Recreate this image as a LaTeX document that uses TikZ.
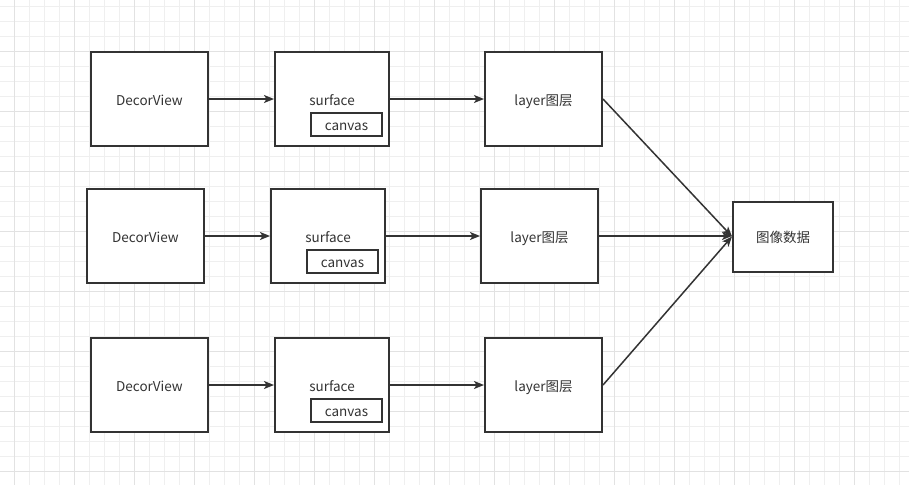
\documentclass[tikz,border=0pt]{standalone}
\usepackage{fontspec}
\setmainfont{Noto Sans CJK SC}
\usetikzlibrary{arrows.meta}
\definecolor{ink}{HTML}{333333}
\definecolor{gridminor}{HTML}{EFEFEF}
\definecolor{gridmajor}{HTML}{E2E2E2}
\tikzset{
  box/.style={draw=ink, line width=2pt, fill=white, text=ink, inner sep=0pt,
    text height=13.5pt, text depth=1.5pt,
    font=\fontsize{13.5}{16}\selectfont},
  bigbox/.style={box, minimum width=117, minimum height=94},
  surfbox/.style={box, minimum width=114, minimum height=94},
  canvbox/.style={box, minimum width=71, minimum height=23},
  imgbox/.style={box, minimum width=100, minimum height=70},
  conn/.style={draw=ink, line width=1.5pt, -{Stealth[length=10pt,width=8pt,inset=2.5pt]}}
}
\begin{document}
\begin{tikzpicture}[x=1pt,y=-1pt]
\useasboundingbox (0,0) rectangle (909,485);
\fill[white] (0,0) rectangle (909,485);
% grid
\foreach \k in {0,...,60} {
  \draw[gridminor, line width=0.8pt] ({14.5+15*\k},0) -- ({14.5+15*\k},485);
}
\foreach \k in {0,...,32} {
  \draw[gridminor, line width=0.8pt] (0,{6.7+15*\k}) -- (909,{6.7+15*\k});
}
\foreach \k in {0,...,15} {
  \draw[gridmajor, line width=0.8pt] ({14.5+60*\k},0) -- ({14.5+60*\k},485);
}
\foreach \k in {0,...,8} {
  \draw[gridmajor, line width=0.8pt] (0,{-8.3+60*\k}) -- (909,{-8.3+60*\k});
}
% row 1
\node[bigbox] (d1) at (149.5,99) {DecorView};
\node[surfbox] (s1) at (332,99) {surface};
\node[canvbox] (c1) at (346.5,124.5) {canvas};
\node[bigbox] (l1) at (543.5,99) {layer图层};
% row 2
\node[bigbox] (d2) at (145.5,236) {DecorView};
\node[surfbox] (s2) at (328,236) {surface};
\node[canvbox] (c2) at (342.5,261.5) {canvas};
\node[bigbox] (l2) at (539.5,236) {layer图层};
% row 3
\node[bigbox] (d3) at (149.5,385) {DecorView};
\node[surfbox] (s3) at (332,385) {surface};
\node[canvbox] (c3) at (346.5,410.5) {canvas};
\node[bigbox] (l3) at (543.5,385) {layer图层};
% image data
\node[imgbox] (img) at (783,236.5) {图像数据};
% connectors
\draw[conn] (d1.east) -- (s1.west);
\draw[conn] (s1.east) -- (l1.west);
\draw[conn] (d2.east) -- (s2.west);
\draw[conn] (s2.east) -- (l2.west);
\draw[conn] (d3.east) -- (s3.west);
\draw[conn] (s3.east) -- (l3.west);
\draw[conn] (l1.east) -- (img.west);
\draw[conn] (l2.east) -- (l2.east -| img.west);
\draw[conn] (l3.east) -- (img.west);
\end{tikzpicture}
\end{document}
